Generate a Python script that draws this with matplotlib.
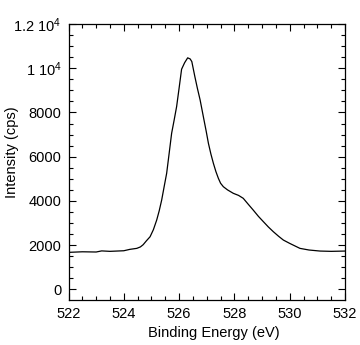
import matplotlib
matplotlib.use("Agg")
import matplotlib.pyplot as plt
from matplotlib.ticker import FixedLocator, MultipleLocator

plt.rcParams['font.family'] = ['Liberation Sans', 'DejaVu Sans']
plt.rcParams['mathtext.fontset'] = 'custom'
plt.rcParams['mathtext.rm'] = 'Liberation Sans'
plt.rcParams['mathtext.it'] = 'Liberation Sans'

energy = [522.0, 522.5, 523.0, 523.2, 523.5, 524.0, 524.22, 524.47, 524.6, 524.7,
          524.82, 524.95, 525.07, 525.19, 525.28, 525.37, 525.46, 525.55, 525.64, 525.73,
          525.82, 525.91, 526.0, 526.09, 526.2, 526.31, 526.4, 526.46, 526.57, 526.66,
          526.76, 526.9, 526.98, 527.06, 527.15, 527.24, 527.33, 527.42, 527.5, 527.6,
          527.75, 527.96, 528.15, 528.32, 528.5, 528.68, 528.87, 529.05, 529.23, 529.41,
          529.6, 529.77, 530.0, 530.37, 530.7, 531.1, 531.5, 532.0]
intensity = [1674, 1700, 1690, 1740, 1720, 1747, 1810, 1855, 1920, 2020,
             2200, 2380, 2700, 3136, 3550, 4041, 4650, 5249, 6150, 7059,
             7650, 8263, 9100, 9955, 10250, 10470, 10420, 10300, 9620, 9100,
             8566, 7661, 7150, 6606, 6120, 5701, 5330, 5023, 4800, 4643,
             4500, 4344, 4250, 4118, 3850, 3588, 3300, 3059, 2820, 2606,
             2400, 2231, 2080, 1855, 1780, 1733, 1720, 1733]

ytick_vals = [0, 2000, 4000, 6000, 8000, 10000, 12000]
ytick_labels = ['0', '2000', '4000', '6000', '8000', r'1 10$^4$', r'1.2 10$^4$']
xtick_vals = [522, 524, 526, 528, 530, 532]

fig = plt.figure(figsize=(3.6, 3.45), dpi=100)
ax = fig.add_axes([68.5/360, 45/345, (345-68.5)/360, (300-24)/345])
ax.plot(energy, intensity, color='black', lw=0.9)
ax.set_xlim(522, 532)
ax.set_ylim(-480, 12000)
ax.xaxis.set_major_locator(FixedLocator(xtick_vals))
ax.xaxis.set_minor_locator(MultipleLocator(0.5))
ax.yaxis.set_major_locator(FixedLocator(ytick_vals))
ax.set_yticklabels(ytick_labels)
ax.yaxis.set_minor_locator(MultipleLocator(500))
ax.tick_params(which='both', direction='in', top=True, right=True, labelsize=10.5, width=0.8)
ax.tick_params(which='major', length=5, pad=5)
ax.tick_params(which='minor', length=3)
for s in ax.spines.values():
    s.set_linewidth(0.9)
ax.set_xlabel('Binding Energy (eV)', fontsize=10.5)
ax.set_ylabel('Intensity (cps)', fontsize=10.5)
ax.xaxis.set_label_coords(0.526, -0.095)
ax.yaxis.set_label_coords(-0.178, 0.534)
fig.savefig('out.png', dpi=100)
